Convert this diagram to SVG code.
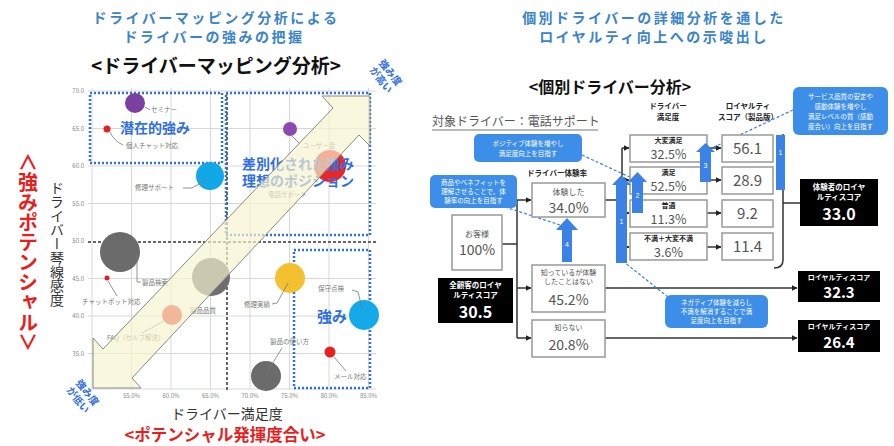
<svg xmlns="http://www.w3.org/2000/svg" width="894" height="446" viewBox="0 0 894 446">
<defs>
<style>
text{font-family:"Noto Sans CJK JP","Noto Sans",sans-serif;}
.ttl{fill:#3a84c8;font-weight:bold;font-size:14px;letter-spacing:2.5px;text-anchor:middle;}
.grid{stroke:#d8d8d8;stroke-width:1;}
.ax{fill:#888;font-size:6px;font-family:"Liberation Sans",sans-serif;}
.lbl{fill:#777;font-size:6.5px;}
.ld{stroke:#777;stroke-width:0.8;fill:none;}
.bdot{fill:none;stroke:#2f6fe0;stroke-width:2.5;stroke-dasharray:2 2;}
.gdash{stroke:#666;stroke-width:2;stroke-dasharray:3 2;fill:none;}
.bl{fill:#2f6fe0;font-weight:bold;}
.box{fill:#fff;stroke:#999;stroke-width:1.5;}
.con{stroke:#333;stroke-width:1.5;fill:none;}
.blk{fill:#000;}
.wt{fill:#fff;text-anchor:middle;}
.gt{fill:#555;text-anchor:middle;}
.hd{fill:#222;font-size:7.5px;font-weight:bold;text-anchor:middle;}
.sl{fill:#222;font-size:7px;font-weight:bold;text-anchor:middle;}
.call{fill:#3d8ee8;}
.ct{fill:#fff;font-size:6.5px;text-anchor:middle;}
.dsh{stroke:#3b7fe0;stroke-width:1.2;stroke-dasharray:3 2;fill:none;}
.barw{fill:#3b82e6;}
.num{fill:#fff;font-size:7px;text-anchor:middle;font-family:"Liberation Sans",sans-serif;}
</style>
<marker id="ah" viewBox="0 0 10 10" refX="9" refY="5" markerWidth="6" markerHeight="6" orient="auto" markerUnits="userSpaceOnUse">
<path d="M0,0 L10,5 L0,10 z" fill="#222"/>
</marker>
</defs>
<rect width="894" height="446" fill="#fff"/>

<!-- LEFT PANEL -->
<g id="left-titles">
<text class="ttl" x="216" y="23">ドライバーマッピング分析による</text>
<text class="ttl" x="214" y="42">ドライバーの強みの把握</text>
<text x="216" y="73" font-size="19" font-weight="bold" fill="#111" text-anchor="middle">&lt;ドライバーマッピング分析&gt;</text>
</g>

<g id="chart-grid">
<g class="grid">
<line x1="92" y1="88" x2="92" y2="390"/><line x1="131.5" y1="88" x2="131.5" y2="390"/><line x1="171" y1="88" x2="171" y2="390"/><line x1="210.5" y1="88" x2="210.5" y2="390"/><line x1="250" y1="88" x2="250" y2="390"/><line x1="289.5" y1="88" x2="289.5" y2="390"/><line x1="329" y1="88" x2="329" y2="390"/><line x1="368.5" y1="88" x2="368.5" y2="390"/>
<line x1="88" y1="91" x2="376" y2="91"/><line x1="88" y1="128.5" x2="376" y2="128.5"/><line x1="88" y1="166" x2="376" y2="166"/><line x1="88" y1="203.5" x2="376" y2="203.5"/><line x1="88" y1="278.5" x2="376" y2="278.5"/><line x1="88" y1="316" x2="376" y2="316"/><line x1="88" y1="353.5" x2="376" y2="353.5"/><line x1="88" y1="389" x2="376" y2="389"/>
</g>
<g class="ax" text-anchor="end">
<text x="84" y="93">70.0</text><text x="84" y="130.5">65.0</text><text x="84" y="168">60.0</text><text x="84" y="205.5">55.0</text><text x="84" y="243">50.0</text><text x="84" y="280.5">45.0</text><text x="84" y="318">40.0</text><text x="84" y="355.5">35.0</text>
</g>
<g class="ax" text-anchor="middle">
<text x="131.5" y="398">55.0%</text><text x="171" y="398">60.0%</text><text x="210.5" y="398">65.0%</text><text x="250" y="398">70.0%</text><text x="289.5" y="398">75.0%</text><text x="329" y="398">80.0%</text><text x="368.5" y="398">85.0%</text>
</g>
<line class="gdash" x1="88" y1="242" x2="376" y2="242"/>
<line class="gdash" x1="227" y1="92" x2="227" y2="390"/>
</g>

<g id="zones">
<rect class="bdot" x="90" y="93" width="132" height="70"/>
<rect class="bdot" x="226" y="93" width="144" height="142"/>
<rect class="bdot" x="294" y="250" width="76" height="138"/>
</g>

<g id="bubbles">
<circle cx="135" cy="103" r="10" fill="#7b3fa0"/>
<path class="ld" d="M145,107 L150,110"/><text class="lbl" x="151" y="112">セミナー</text>
<circle cx="107" cy="129" r="3.5" fill="#e02020"/>
<path class="ld" d="M110,132 Q114,141 123,145"/><text class="lbl" x="126" y="148">個人チャット対応</text>
<text class="bl" x="120" y="133" font-size="14">潜在的強み</text>
<circle cx="210" cy="176" r="14" fill="#12a7e6"/>
<path class="ld" d="M183,188 L192,188 L206,180"/><text class="lbl" x="135" y="190">修理サポート</text>
<circle cx="290" cy="129" r="7" fill="#8a4ab0"/>
<path class="ld" d="M292,136 L300,144"/><text class="lbl" x="303" y="148">ユーザー会</text>
<circle cx="330" cy="166" r="16" fill="#e82828"/>
<text class="lbl" x="268" y="197">電話サポート</text>
<text class="bl" x="242" y="169" font-size="14">差別化された強み</text>
<text class="bl" x="242" y="186" font-size="14">理想のポジション</text>
<circle cx="120" cy="252" r="20" fill="#6b6b6b"/>
<path class="ld" d="M137,253 L137,282 L141,282"/><text class="lbl" x="142" y="285">製品検索</text>
<circle cx="107" cy="278" r="2.5" fill="#e02020"/>
<path class="ld" d="M108,281 L117,296"/><text class="lbl" x="82" y="304">チャットボット対応</text>
<circle cx="211" cy="277" r="19" fill="#6e6e6e"/>
<text class="lbl" x="190" y="313">製品品質</text>
<circle cx="172" cy="315" r="10" fill="#e83a2a"/>
<path class="ld" d="M164,321 L142,333"/><text class="lbl" x="107" y="340">FAQ（セルフ解決）</text>
<circle cx="290" cy="278" r="15" fill="#f3c030"/>
<path class="ld" d="M288,283 L277,303 L272,304"/><text class="lbl" x="244" y="307">修理実績</text>
<circle cx="364" cy="315" r="15" fill="#14a9e8"/>
<path class="ld" d="M352,290 L358,292 L362,308"/><text class="lbl" x="318" y="291">保守点検</text>
<text class="bl" x="317" y="322" font-size="15">強み</text>
<circle cx="330" cy="352" r="5.5" fill="#e82020"/>
<path class="ld" d="M334,357 L346,371"/><text class="lbl" x="334" y="379">メール対応</text>
<circle cx="266" cy="376" r="15" fill="#6b6b6b"/>
<path class="ld" d="M266,374 L282,348"/><text class="lbl" x="270" y="344">製品の使い方</text>
</g>

<g id="band">
<polygon points="370,96 322,96 333,108 103,349 93,338 93,388 141,388 132,378 359,135 370,146" fill="#f6f3cf" fill-opacity="0.68" stroke="#8a8a80" stroke-width="1"/>
</g>

<g id="axis-labels">
<text x="28" y="252" font-size="20" font-weight="bold" fill="#e8201c" writing-mode="vertical-rl" text-anchor="middle" style="text-orientation:upright">∧強みポテンシャル∨</text>
<text x="57" y="244" font-size="14" fill="#333" writing-mode="vertical-rl" text-anchor="middle" style="text-orientation:upright">ドライバー琴線感度</text>
<text x="227" y="419" font-size="14" fill="#333" text-anchor="middle">ドライバー満足度</text>
<text x="225" y="441" font-size="16.5" font-weight="bold" fill="#e8201c" text-anchor="middle">&lt;ポテンシャル発揮度合い&gt;</text>
<g transform="translate(386,76) rotate(52)" fill="#2f6fe0" font-size="10" font-weight="bold" text-anchor="middle">
<text x="0" y="-2">強み度</text><text x="0" y="10">が高い</text>
</g>
<g transform="translate(83,396) rotate(52)" fill="#2f6fe0" font-size="10" font-weight="bold" text-anchor="middle">
<text x="0" y="-2">強み度</text><text x="0" y="10">が低い</text>
</g>
</g>

<!-- RIGHT PANEL -->
<g id="right-titles">
<text class="ttl" x="654" y="23">個別ドライバーの詳細分析を通した</text>
<text class="ttl" x="654" y="42">ロイヤルティ向上への示唆出し</text>
<text x="610" y="93" font-size="16" font-weight="bold" fill="#111" text-anchor="middle">&lt;個別ドライバー分析&gt;</text>
<text x="432" y="126" font-size="12" fill="#555">対象ドライバー：電話サポート</text>
<line x1="432" y1="130" x2="598" y2="130" stroke="#777" stroke-width="1"/>
<text class="hd" x="557" y="176">ドライバー体験率</text>
<text class="hd" x="668" y="109">ドライバー</text>
<text class="hd" x="668" y="120">満足度</text>
<text class="hd" x="748" y="109">ロイヤルティ</text>
<text class="hd" x="748" y="120">スコア（製品版）</text>
</g>

<g id="connectors">
<line class="con" x1="502" y1="244" x2="517" y2="244"/>
<line class="con" x1="517" y1="200" x2="517" y2="338"/>
<line class="con" x1="517" y1="200" x2="531" y2="200" marker-end="url(#ah)"/>
<line class="con" x1="517" y1="288" x2="531" y2="288" marker-end="url(#ah)"/>
<line class="con" x1="517" y1="338" x2="531" y2="338" marker-end="url(#ah)"/>
<line class="con" x1="605" y1="200" x2="622" y2="200"/>
<line class="con" x1="622" y1="148" x2="622" y2="247"/>
<line class="con" x1="622" y1="148" x2="629" y2="148" marker-end="url(#ah)"/>
<line class="con" x1="622" y1="180" x2="629" y2="180" marker-end="url(#ah)"/>
<line class="con" x1="622" y1="213" x2="629" y2="213" marker-end="url(#ah)"/>
<line class="con" x1="622" y1="247" x2="629" y2="247" marker-end="url(#ah)"/>
<line class="con" x1="707" y1="148" x2="721" y2="148" marker-end="url(#ah)"/>
<line class="con" x1="707" y1="180" x2="721" y2="180" marker-end="url(#ah)"/>
<line class="con" x1="707" y1="213" x2="721" y2="213" marker-end="url(#ah)"/>
<line class="con" x1="707" y1="247" x2="721" y2="247" marker-end="url(#ah)"/>
<path class="con" d="M774,268 Q783,268 783,260 L783,134"/>
<line class="con" x1="783" y1="203" x2="800" y2="203"/>
<line class="con" x1="605" y1="288" x2="797" y2="288" marker-end="url(#ah)"/>
<line class="con" x1="605" y1="338" x2="797" y2="338" marker-end="url(#ah)"/>
<line class="dsh" x1="582" y1="155" x2="636" y2="180"/>
<line class="dsh" x1="505" y1="207" x2="560" y2="225"/>
<line class="dsh" x1="793" y1="110" x2="712" y2="148"/>
<line class="dsh" x1="668" y1="297" x2="624" y2="262"/>
</g>

<g id="n-customer"><rect class="box" x="452" y="215" width="50" height="55"/><text class="gt" x="477" y="237" font-size="8">お客様</text><text class="gt" x="477" y="255" font-size="14">100%</text></g>
<g id="n-all"><rect class="blk" x="438" y="278" width="75" height="45"/><text class="wt" x="475.5" y="288" font-size="7.5" font-weight="bold">全顧客のロイヤ</text><text class="wt" x="475.5" y="298" font-size="7.5" font-weight="bold">ルティスコア</text><text class="wt" x="475.5" y="318" font-size="16" font-weight="bold">30.5</text></g>
<g id="n-exp"><rect class="box" x="532" y="183" width="73" height="34"/><text class="gt" x="568.5" y="195" font-size="8">体験した</text><text class="gt" x="568.5" y="213" font-size="14">34.0%</text></g>
<g id="n-know"><rect class="box" x="532" y="265" width="73" height="47"/><text class="gt" x="568.5" y="275" font-size="7">知っているが体験</text><text class="gt" x="568.5" y="284" font-size="7">したことはない</text><text class="gt" x="568.5" y="305" font-size="14">45.2%</text></g>
<g id="n-unknown"><rect class="box" x="532" y="320" width="73" height="37"/><text class="gt" x="568.5" y="330" font-size="7">知らない</text><text class="gt" x="568.5" y="350" font-size="14">20.8%</text></g>
<g id="n-s1"><rect class="box" x="630" y="135" width="77" height="27"/><text class="sl" x="668.5" y="143">大変満足</text><text class="gt" x="668.5" y="159" font-size="12.5">32.5%</text></g>
<g id="n-s2"><rect class="box" x="630" y="167" width="77" height="27"/><text class="sl" x="668.5" y="175">満足</text><text class="gt" x="668.5" y="191" font-size="12.5">52.5%</text></g>
<g id="n-s3"><rect class="box" x="630" y="200" width="77" height="27"/><text class="sl" x="668.5" y="208">普通</text><text class="gt" x="668.5" y="224" font-size="12.5">11.3%</text></g>
<g id="n-s4"><rect class="box" x="630" y="233" width="77" height="27"/><text class="sl" x="668.5" y="241">不満＋大変不満</text><text class="gt" x="668.5" y="257" font-size="12.5">3.6%</text></g>
<g id="n-l1"><rect class="box" x="722" y="135" width="51" height="27"/><text class="gt" x="747.5" y="154" font-size="15">56.1</text></g>
<g id="n-l2"><rect class="box" x="722" y="167" width="51" height="27"/><text class="gt" x="747.5" y="186" font-size="15">28.9</text></g>
<g id="n-l3"><rect class="box" x="722" y="200" width="51" height="27"/><text class="gt" x="747.5" y="219" font-size="15">9.2</text></g>
<g id="n-l4"><rect class="box" x="722" y="233" width="51" height="27"/><text class="gt" x="747.5" y="252" font-size="15">11.4</text></g>
<g id="n-expscore"><rect class="blk" x="800" y="179" width="78" height="47"/><text class="wt" x="839" y="190" font-size="7.5" font-weight="bold">体験者のロイヤ</text><text class="wt" x="839" y="200" font-size="7.5" font-weight="bold">ルティスコア</text><text class="wt" x="839" y="220" font-size="16" font-weight="bold">33.0</text></g>
<g id="n-knowscore"><rect class="blk" x="798" y="271" width="82" height="31"/><text class="wt" x="839" y="280" font-size="7" font-weight="bold">ロイヤルティスコア</text><text class="wt" x="839" y="298" font-size="15" font-weight="bold">32.3</text></g>
<g id="n-unkscore"><rect class="blk" x="798" y="320" width="82" height="32"/><text class="wt" x="839" y="329" font-size="7" font-weight="bold">ロイヤルティスコア</text><text class="wt" x="839" y="348" font-size="15" font-weight="bold">26.4</text></g>

<g id="blue-arrows">
<polygon class="barw" points="562,262 562,230 556,230 567,218 578,230 572,230 572,262"/><text class="num" x="567" y="247">4</text>
<polygon class="barw" points="616,263 616,185 612,185 621.5,175 631,185 627,185 627,263"/><text class="num" x="621.5" y="224">1</text>
<polygon class="barw" points="632,213 632,182 628,182 637.5,172 647,182 643,182 643,213"/><text class="num" x="637.5" y="198">2</text>
<polygon class="barw" points="700,182 700,152 696,152 705.5,143 715,152 711,152 711,182"/><text class="num" x="705.5" y="168">3</text>
<rect class="barw" x="776" y="135" width="9" height="55"/><text class="num" x="780.5" y="155">1</text>
</g>

<g id="callouts">
<rect class="call" x="474" y="134" width="108" height="28" rx="5"/><text class="ct" x="528" y="146">ポジティブ体験を増やし</text><text class="ct" x="528" y="156">満足度向上を目指す</text>
<rect class="call" x="430" y="175" width="87" height="33" rx="5"/><text class="ct" x="473.5" y="185">商品やベネフィットを</text><text class="ct" x="473.5" y="194">理解させることで、体</text><text class="ct" x="473.5" y="203">験率の向上を目指す</text>
<rect class="call" x="793" y="87" width="95" height="48" rx="6"/><text class="ct" x="840.5" y="99">サービス品質の安定や</text><text class="ct" x="840.5" y="109">感動体験を増やし</text><text class="ct" x="840.5" y="119">満足レベルの質（感動</text><text class="ct" x="840.5" y="129">度合い）向上を目指す</text>
<rect class="call" x="665" y="295" width="103" height="33" rx="6"/><text class="ct" x="716.5" y="305">ネガティブ体験を減らし</text><text class="ct" x="716.5" y="314">不満を解消することで満</text><text class="ct" x="716.5" y="323">足度向上を目指す</text>
</g>
</svg>
